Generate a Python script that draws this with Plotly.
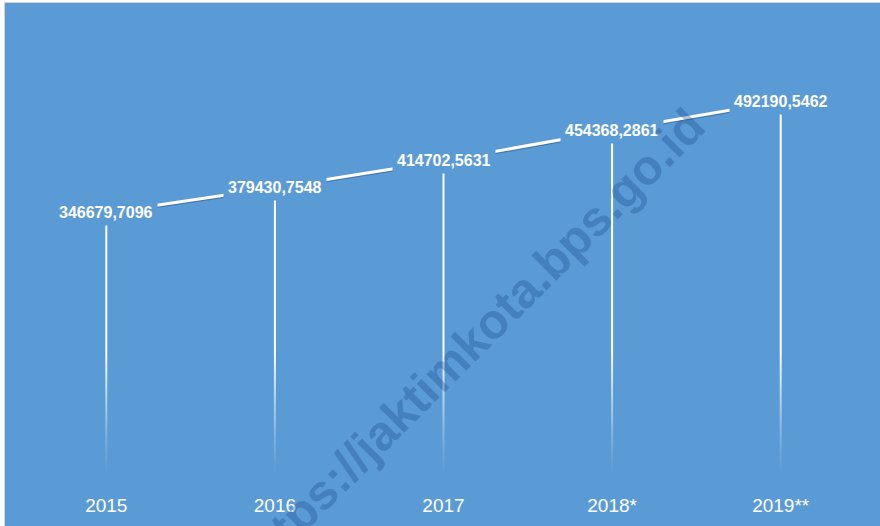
import plotly.graph_objects as go

years = ["2015", "2016", "2017", "2018*", "2019**"]
values = [346679.7096, 379430.7548, 414702.5631, 454368.2861, 492190.5462]
watermark = "https://jaktimkota.bps.go.id"

BLUE = "#5B9BD5"
W, H = 880, 526
ML, MR, MT, MB = 22, 15, 19, 48
PW, PH = W - ML - MR, H - MT - MB
YMAX = 600000
UNIT = YMAX / PH  # data units per pixel

def px_x(p):
    return (p - ML) / PW

def px_y(p):
    return (H - MB - p) / PH

fig = go.Figure()

# drop lines with fading gradient toward the bottom (pixel-aligned segments)
SEG_PX = 3
N = 42
step = SEG_PX * UNIT
FADE_TOP = N * step
for k in range(N):
    xs, ys = [], []
    for c, v in zip(years, values):
        xs += [c, c, None]
        ys += [k * step, (k + 1) * step, None]
    a = ((k + 0.5) / N) ** 1.3
    fig.add_trace(go.Scatter(x=xs, y=ys, mode="lines",
                             line=dict(color=f"rgba(255,255,255,{a:.3f})", width=2),
                             hoverinfo="skip", showlegend=False))
xs, ys = [], []
for c, v in zip(years, values):
    xs += [c, c, None]
    ys += [FADE_TOP, v, None]
fig.add_trace(go.Scatter(x=xs, y=ys, mode="lines",
                         line=dict(color="white", width=2),
                         hoverinfo="skip", showlegend=False))

# subtle shadow of main line
fig.add_trace(go.Scatter(x=years, y=[v - 2.0 * UNIT for v in values], mode="lines",
                         line=dict(color="rgba(0,0,0,0.22)", width=1.5),
                         hoverinfo="skip", showlegend=False))
# main line
fig.add_trace(go.Scatter(x=years, y=values, mode="lines",
                         line=dict(color="white", width=3),
                         hoverinfo="skip", showlegend=False))

annotations = []
for i, v in enumerate(values):
    annotations.append(dict(
        x=i, y=v, xref="x", yref="y", showarrow=False,
        text=f"{v:.4f}".replace(".", ","),
        font=dict(family="Liberation Sans", size=16, color="white", weight="bold"),
        bgcolor=BLUE, borderpad=4, xanchor="center", yanchor="middle"))

annotations.append(dict(
    x=px_x(471), y=px_y(342), xref="paper", yref="paper", showarrow=False,
    text=watermark, textangle=-45,
    font=dict(family="Liberation Sans", size=49, color="rgba(20,70,140,0.32)", weight="bold"),
    xanchor="center", yanchor="middle"))

shapes = [dict(
    type="rect", xref="paper", yref="paper", layer="below",
    x0=px_x(4.5), x1=px_x(890), y0=px_y(540), y1=px_y(2.5),
    fillcolor=BLUE, line=dict(color="#D4D4D4", width=1))]

fig.update_layout(
    width=W, height=H,
    margin=dict(l=ML, r=MR, t=MT, b=MB, autoexpand=False),
    paper_bgcolor="white", plot_bgcolor="rgba(0,0,0,0)",
    showlegend=False,
    annotations=annotations, shapes=shapes,
    xaxis=dict(type="category", categoryorder="array", categoryarray=years,
               range=[-0.5, len(years) - 0.5], automargin=False,
               showgrid=False, zeroline=False, showline=False, ticks="",
               ticklabelstandoff=14,
               tickfont=dict(family="Liberation Sans", size=19, color="white")),
    yaxis=dict(range=[0, YMAX], visible=False, showgrid=False, zeroline=False),
)

fig.write_html("out.html", config={"displayModeBar": False},
               post_script="document.body.style.margin='0';document.body.style.overflow='hidden';")
